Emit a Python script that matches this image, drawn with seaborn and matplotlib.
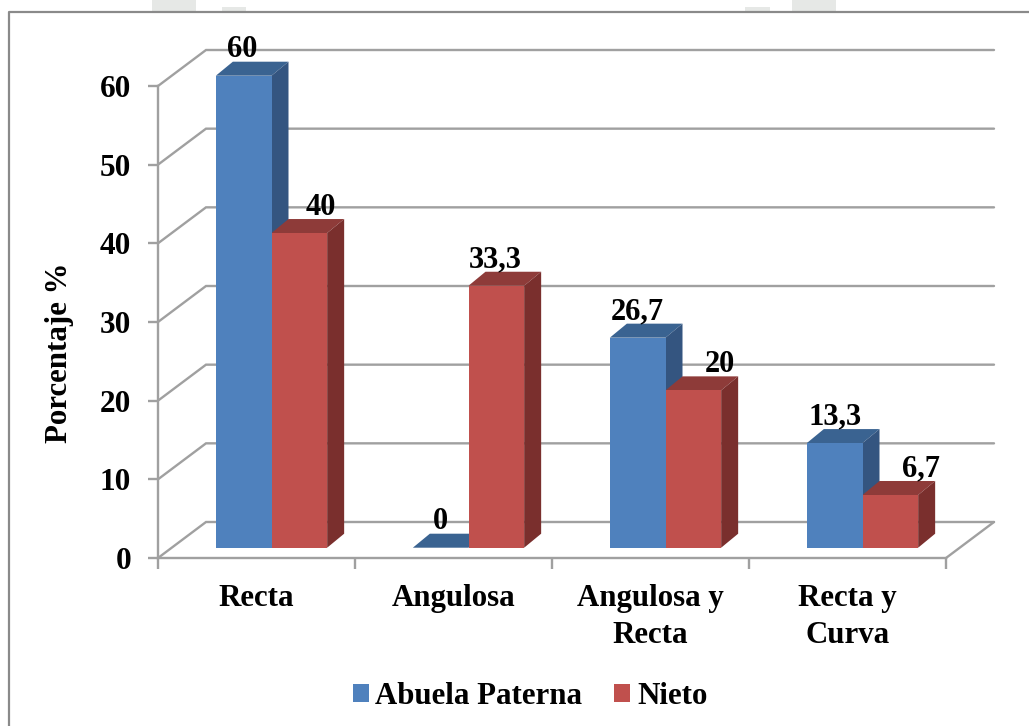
import matplotlib
matplotlib.use('Agg')
import matplotlib.pyplot as plt
from matplotlib.patches import Polygon, Patch, Rectangle
import pandas as pd
import seaborn as sns

categories = ['Recta', 'Angulosa', 'Angulosa y\nRecta', 'Recta y\nCurva']
abuela = [60, 0, 26.7, 13.3]
nieto = [40, 33.3, 20, 6.7]
y_ticks = [0, 10, 20, 30, 40, 50, 60]

# nudge of each value label in pixels, one per bar
label_shift_abuela = [-1, 0, 0, 0]
label_shift_nieto = [21, -1, 27, 31]

W, H = 1029, 726
GREY = '#a0a0a0'
colors = {'Abuela Paterna': ('#4f81bd', '#3a6391', '#345580'),
          'Nieto': ('#c0504d', '#8e3b39', '#7a2f2d')}

sns.set_theme(style='white')
plt.rcParams['font.family'] = ['Liberation Serif', 'DejaVu Serif']
plt.rcParams['font.weight'] = 'bold'
plt.rcParams['text.color'] = 'black'
FS = 22.2


def box(x0, y0, x1, y1):
    # pixel box (y from the top) to figure fractions
    return [x0 / W, 1 - y1 / H, (x1 - x0) / W, (y1 - y0) / H]


df = pd.DataFrame({
    'forma': categories * 2,
    'pct': abuela + nieto,
    'serie': ['Abuela Paterna'] * 4 + ['Nieto'] * 4,
})

fig = plt.figure(figsize=(W / 100, H / 100), dpi=100, facecolor='white')

# scanned page frame and the bits of watermark above it
for x0, x1, y0 in [(152, 196, 0), (222, 246, 7), (745, 770, 7), (792, 836, 0)]:
    fig.add_artist(Rectangle((x0 / W, 1 - 11 / H), (x1 - x0) / W, (11 - y0) / H,
                             transform=fig.transFigure, color='#e6e8e6', lw=0))
fig.add_artist(plt.Line2D([9 / W, 9 / W, 1], [0, 1 - 12 / H, 1 - 12 / H],
                          color='#8a8a8a', lw=1.6))

# front plane: axis, ticks and walls
ax = fig.add_axes(box(158, 86, 946, 558))
ax.set_xlim(-0.5, 3.5)
ax.set_ylim(0, 60)
ax.patch.set_alpha(0)
sns.despine(ax=ax)
for s in ['left', 'bottom']:
    ax.spines[s].set_color(GREY)
    ax.spines[s].set_linewidth(1.7)

ax.set_yticks(y_ticks)
ax.set_xticks(range(4))
ax.set_xticklabels(categories, linespacing=1.36)
ax.set_xticks([-0.5, 0.5, 1.5, 2.5, 3.5], minor=True)
ax.tick_params(axis='y', length=7.2, width=1.7, color=GREY, pad=12, labelsize=22.5, left=True)
ax.tick_params(axis='x', which='major', length=0, pad=19, labelsize=FS)
ax.tick_params(axis='x', which='minor', length=8, width=1.7, color=GREY, bottom=True)
ax.set_ylabel('Porcentaje %', fontsize=FS, fontweight='bold', color='black')
ax.yaxis.set_label_coords((74 - 158) / 788, 0.434)
for t in ax.get_xticklabels() + ax.get_yticklabels():
    t.set_color('black')
    t.set_fontweight('bold')

# back wall lines, in data units of the front plane
depth_x = 48 / 197
depth_y = 36 / (472 / 60)
for v in y_ticks:
    ax.plot([-0.5, -0.5 + depth_x, 3.5 + depth_x], [v, v + depth_y, v + depth_y],
            color=GREY, lw=1.7, clip_on=False, solid_joinstyle='miter', zorder=1)
ax.plot([3.5, 3.5 + depth_x], [0, depth_y], color=GREY, lw=1.7, clip_on=False, zorder=1)

# bars sit a little behind the front plane, so they get their own axes
ax_bar = fig.add_axes(box(173, 75.7, 961, 547.7))
ax_bar.patch.set_alpha(0)
sns.barplot(data=df, x='forma', y='pct', hue='serie', hue_order=list(colors),
            palette={k: c[0] for k, c in colors.items()}, saturation=1,
            width=0.565, gap=0, legend=False, ax=ax_bar, zorder=5)
ax_bar.set_xlim(-0.5, 3.5)
ax_bar.set_ylim(0, 60)
ax_bar.axis('off')

bar_dx = 17 / 197
bar_dy = 14 / (472 / 60)
for cont, name, z in zip(ax_bar.containers, colors, [3, 4]):
    _, top_c, side_c = colors[name]
    for bar in cont:
        x0 = bar.get_x()
        x1 = x0 + bar.get_width()
        h = bar.get_height()
        bar.set_linewidth(0)
        ax_bar.add_patch(Polygon([(x0, h), (x1, h), (x1 + bar_dx, h + bar_dy), (x0 + bar_dx, h + bar_dy)],
                                 facecolor=top_c, lw=0, clip_on=False, zorder=z))
        ax_bar.add_patch(Polygon([(x1, 0), (x1, h), (x1 + bar_dx, h + bar_dy), (x1 + bar_dx, bar_dy)],
                                 facecolor=side_c, lw=0, clip_on=False, zorder=z))

for cont, shifts in zip(ax_bar.containers, [label_shift_abuela, label_shift_nieto]):
    for bar, shift in zip(cont, shifts):
        h = bar.get_height()
        ax_bar.annotate(f'{h:g}'.replace('.', ','), (bar.get_x() + bar.get_width() / 2, h),
                        xytext=(shift * 0.72, 26 * 0.72), textcoords='offset points',
                        ha='center', va='center', fontsize=22, fontweight='bold',
                        color='black', annotation_clip=False, zorder=6)

handles = [Patch(facecolor=c[0], label=k, lw=0) for k, c in colors.items()]
fig.legend(handles=handles, loc='center', bbox_to_anchor=(530 / W, 1 - 696 / H), ncol=2,
           frameon=False, handlelength=0.52, handleheight=0.52,
           handletextpad=0.22, columnspacing=1.03, labelcolor='black',
           prop={'size': FS, 'weight': 'bold'})

fig.savefig('out.png', dpi=100)
